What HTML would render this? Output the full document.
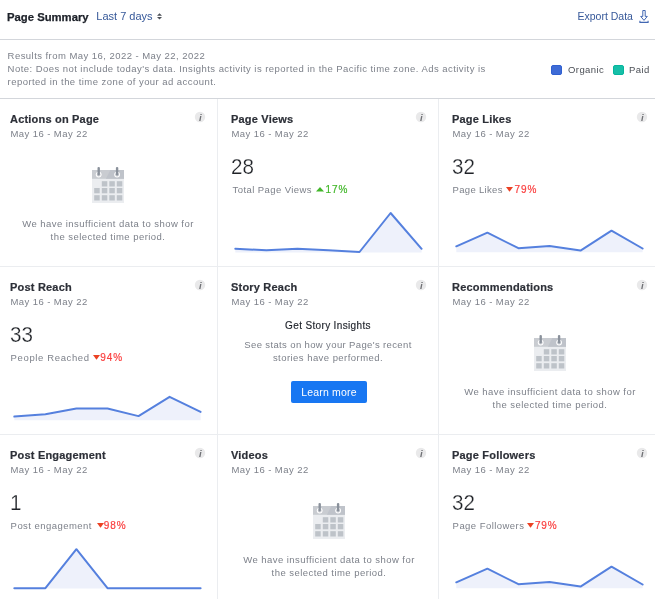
<!DOCTYPE html>
<html><head><meta charset="utf-8"><style>
html,body{margin:0;padding:0;background:#fff;}
body{width:655px;height:599px;overflow:hidden;position:relative;font-family:"Liberation Sans",Arial,sans-serif;}
div{position:absolute;white-space:nowrap;}
.ic{position:absolute;overflow:visible;}
.h1{font-weight:bold;font-size:11.3px;line-height:14px;color:#1d2129;-webkit-text-stroke:0.25px #1d2129;}
.sel{font-size:11px;line-height:14px;color:#365899;}
.exp{font-size:10.5px;line-height:14px;color:#365899;}
.g{font-size:9.5px;line-height:13px;color:#7d818a;letter-spacing:0.45px;}
.lg{font-size:9.5px;line-height:13px;color:#4b4f56;letter-spacing:0.42px;}
.ti{font-weight:bold;font-size:11px;line-height:14px;color:#2d3038;letter-spacing:0.2px;-webkit-text-stroke:0.2px #2d3038;}
.dt{font-size:9.5px;line-height:13px;color:#7d818a;letter-spacing:0.43px;}
.nd{font-size:9.5px;line-height:13px;color:#7d818a;letter-spacing:0.45px;text-align:center;width:220px;}
.num{font-size:22.4px;line-height:26px;color:#1f2227;-webkit-text-stroke:0.25px #fff;transform:scaleX(0.92);transform-origin:0 0;}
.lb{font-size:9.5px;line-height:13px;color:#7d818a;letter-spacing:0.45px;}
.pc{font-size:10px;letter-spacing:0.9px !important;-webkit-text-stroke:0.2px currentColor;}
.tri{display:inline-block;width:0;height:0;vertical-align:1px;margin-left:0px;margin-right:1.2px;}
.tri.up{border-left:4px solid transparent;border-right:4px solid transparent;border-bottom:4.5px solid #42b72a;}
.tri.dn{border-left:3.5px solid transparent;border-right:3.5px solid transparent;border-top:5px solid #eb4123;}
.sh{font-size:10px;line-height:14px;color:#1d2129;text-align:center;width:220px;letter-spacing:0.35px;-webkit-text-stroke:0.15px #1d2129;}
.btn{background:#1877f2;border-radius:2px;color:#fff;font-size:10.5px;line-height:22px;width:76px;height:22px;text-align:center;letter-spacing:0.2px;}
#w{position:absolute;left:0;top:0;width:655px;height:599px;will-change:transform;}
</style></head><body><div id="w">
<div class="h1" style="left:7px;top:10px;">Page Summary</div>
<div class="sel" style="left:96.3px;top:9px;">Last 7 days</div>
<svg class="ic" style="left:156px;top:12px" width="8" height="9" viewBox="0 0 8 9"><polygon points="1,3.8 6,3.8 3.5,1.2" fill="#4b4f56"/><polygon points="1,4.9 6,4.9 3.5,7.6" fill="#4b4f56"/></svg>
<div class="exp" style="left:577.5px;top:9px;">Export Data</div>
<svg class="ic" style="left:636px;top:8px" width="16" height="16" viewBox="0 0 16 16"><path d="M6.8,2.5 H9.2 V8.4 H11.3 L8,12.4 L4.7,8.4 H6.8 Z" fill="none" stroke="#4267b2" stroke-width="1"/><path d="M3.9,12.8 V14.4 H12.1 V12.8" fill="none" stroke="#4267b2" stroke-width="1.1"/></svg>
<div style="left:0;top:39px;width:655px;height:1px;background:#d3d6db"></div>
<div class="g" style="left:7.6px;top:49px;">Results from May 16, 2022 - May 22, 2022</div>
<div class="g" style="left:7.6px;top:62px;">Note: Does not include today's data. Insights activity is reported in the Pacific time zone. Ads activity is</div>
<div class="g" style="left:7.6px;top:75px;">reported in the time zone of your ad account.</div>
<div style="left:551px;top:65px;width:9px;height:8px;border-radius:2px;background:#3e6bd6;border:1px solid #3060d0"></div>
<div class="lg" style="left:568px;top:63px;">Organic</div>
<div style="left:613px;top:65px;width:9px;height:8px;border-radius:2px;background:#16bfa8;border:1px solid #05b59c"></div>
<div class="lg" style="left:629px;top:63px;">Paid</div>
<div style="left:0;top:98px;width:655px;height:1px;background:#d3d6db"></div>
<div style="left:217px;top:99px;width:1px;height:500px;background:#ebedf0"></div>
<div style="left:438px;top:99px;width:1px;height:500px;background:#ebedf0"></div>
<div style="left:0;top:266px;width:655px;height:1px;background:#ebedf0"></div>
<div style="left:0;top:434px;width:655px;height:1px;background:#ebedf0"></div>
<div class="ti" style="left:10px;top:112px;">Actions on Page</div>
<div class="dt" style="left:10.4px;top:126.5px;">May 16 - May 22</div>
<svg class="ic" style="left:194.1px;top:111.3px" width="12" height="12" viewBox="0 0 12 12"><circle cx="6" cy="6" r="5.2" fill="#e9e9ea"/><text x="6.2" y="9.5" text-anchor="middle" font-family="Liberation Sans" font-style="italic" font-weight="bold" font-size="9.5" fill="#707276">i</text></svg>
<div class="ti" style="left:231px;top:112px;">Page Views</div>
<div class="dt" style="left:231.4px;top:126.5px;">May 16 - May 22</div>
<svg class="ic" style="left:415.1px;top:111.3px" width="12" height="12" viewBox="0 0 12 12"><circle cx="6" cy="6" r="5.2" fill="#e9e9ea"/><text x="6.2" y="9.5" text-anchor="middle" font-family="Liberation Sans" font-style="italic" font-weight="bold" font-size="9.5" fill="#707276">i</text></svg>
<div class="ti" style="left:452px;top:112px;">Page Likes</div>
<div class="dt" style="left:452.4px;top:126.5px;">May 16 - May 22</div>
<svg class="ic" style="left:636.1px;top:111.3px" width="12" height="12" viewBox="0 0 12 12"><circle cx="6" cy="6" r="5.2" fill="#e9e9ea"/><text x="6.2" y="9.5" text-anchor="middle" font-family="Liberation Sans" font-style="italic" font-weight="bold" font-size="9.5" fill="#707276">i</text></svg>
<div class="ti" style="left:10px;top:280px;">Post Reach</div>
<div class="dt" style="left:10.4px;top:294.5px;">May 16 - May 22</div>
<svg class="ic" style="left:194.1px;top:279.3px" width="12" height="12" viewBox="0 0 12 12"><circle cx="6" cy="6" r="5.2" fill="#e9e9ea"/><text x="6.2" y="9.5" text-anchor="middle" font-family="Liberation Sans" font-style="italic" font-weight="bold" font-size="9.5" fill="#707276">i</text></svg>
<div class="ti" style="left:231px;top:280px;">Story Reach</div>
<div class="dt" style="left:231.4px;top:294.5px;">May 16 - May 22</div>
<svg class="ic" style="left:415.1px;top:279.3px" width="12" height="12" viewBox="0 0 12 12"><circle cx="6" cy="6" r="5.2" fill="#e9e9ea"/><text x="6.2" y="9.5" text-anchor="middle" font-family="Liberation Sans" font-style="italic" font-weight="bold" font-size="9.5" fill="#707276">i</text></svg>
<div class="ti" style="left:452px;top:280px;">Recommendations</div>
<div class="dt" style="left:452.4px;top:294.5px;">May 16 - May 22</div>
<svg class="ic" style="left:636.1px;top:279.3px" width="12" height="12" viewBox="0 0 12 12"><circle cx="6" cy="6" r="5.2" fill="#e9e9ea"/><text x="6.2" y="9.5" text-anchor="middle" font-family="Liberation Sans" font-style="italic" font-weight="bold" font-size="9.5" fill="#707276">i</text></svg>
<div class="ti" style="left:10px;top:448px;">Post Engagement</div>
<div class="dt" style="left:10.4px;top:462.5px;">May 16 - May 22</div>
<svg class="ic" style="left:194.1px;top:447.3px" width="12" height="12" viewBox="0 0 12 12"><circle cx="6" cy="6" r="5.2" fill="#e9e9ea"/><text x="6.2" y="9.5" text-anchor="middle" font-family="Liberation Sans" font-style="italic" font-weight="bold" font-size="9.5" fill="#707276">i</text></svg>
<div class="ti" style="left:231px;top:448px;">Videos</div>
<div class="dt" style="left:231.4px;top:462.5px;">May 16 - May 22</div>
<svg class="ic" style="left:415.1px;top:447.3px" width="12" height="12" viewBox="0 0 12 12"><circle cx="6" cy="6" r="5.2" fill="#e9e9ea"/><text x="6.2" y="9.5" text-anchor="middle" font-family="Liberation Sans" font-style="italic" font-weight="bold" font-size="9.5" fill="#707276">i</text></svg>
<div class="ti" style="left:452px;top:448px;">Page Followers</div>
<div class="dt" style="left:452.4px;top:462.5px;">May 16 - May 22</div>
<svg class="ic" style="left:636.1px;top:447.3px" width="12" height="12" viewBox="0 0 12 12"><circle cx="6" cy="6" r="5.2" fill="#e9e9ea"/><text x="6.2" y="9.5" text-anchor="middle" font-family="Liberation Sans" font-style="italic" font-weight="bold" font-size="9.5" fill="#707276">i</text></svg>
<svg class="ic" style="left:92px;top:167px" width="32" height="36" viewBox="0 0 32 36"><rect x="0" y="3" width="32" height="33" fill="#ebedf0"/><rect x="0" y="3" width="32" height="8.8" fill="#c9ccd1"/><polygon points="18.3,3 32,3 32,11.8 13.9,11.8" fill="#bfc3ca"/><circle cx="6.7" cy="7.6" r="2.9" fill="#fff"/><circle cx="25.1" cy="7.6" r="2.9" fill="#fff"/><circle cx="6.7" cy="7.6" r="1.9" fill="#c9ccd1"/><circle cx="25.1" cy="7.6" r="1.9" fill="#bfc3ca"/><rect x="5.5" y="0" width="2.4" height="8.4" rx="1.1" fill="#8a919b"/><rect x="23.9" y="0" width="2.4" height="8.4" rx="1.1" fill="#8a919b"/><rect x="9.8" y="14.2" width="5.5" height="5.3" fill="#bec3c9"/><rect x="17.3" y="14.2" width="5.5" height="5.3" fill="#bec3c9"/><rect x="24.8" y="14.2" width="5.5" height="5.3" fill="#bec3c9"/><rect x="2.2" y="21.0" width="5.5" height="5.3" fill="#bec3c9"/><rect x="9.8" y="21.0" width="5.5" height="5.3" fill="#bec3c9"/><rect x="17.3" y="21.0" width="5.5" height="5.3" fill="#bec3c9"/><rect x="24.8" y="21.0" width="5.5" height="5.3" fill="#bec3c9"/><rect x="2.2" y="28.2" width="5.5" height="5.3" fill="#bec3c9"/><rect x="9.8" y="28.2" width="5.5" height="5.3" fill="#bec3c9"/><rect x="17.3" y="28.2" width="5.5" height="5.3" fill="#bec3c9"/><rect x="24.8" y="28.2" width="5.5" height="5.3" fill="#bec3c9"/></svg>
<div class="nd" style="left:-2px;top:217px;">We have insufficient data to show for<br>the selected time period.</div>
<div class="num" style="left:230.5px;top:154px;">28</div>
<div class="lb" style="left:232.6px;top:183px;letter-spacing:0.42px">Total Page Views</div>
<svg class="ic" style="left:316.0px;top:187.4px" width="8" height="5" viewBox="0 0 8 5"><polygon points="0,4.4 8,4.4 4,0" fill="#42b72a"/></svg>
<div class="lb pc" style="left:325.6px;top:183px;color:#42b72a">17%</div>
<div class="num" style="left:451.5px;top:154px;">32</div>
<div class="lb" style="left:452.6px;top:183px;letter-spacing:0.32px">Page Likes</div>
<svg class="ic" style="left:505.6px;top:187.2px" width="7" height="5" viewBox="0 0 7 5"><polygon points="0,0 7,0 3.5,4.8" fill="#eb4123"/></svg>
<div class="lb pc" style="left:514.5px;top:183px;color:#fa3e3e">79%</div>
<div class="num" style="left:9.5px;top:322px;">33</div>
<div class="lb" style="left:10.6px;top:351px;letter-spacing:0.63px">People Reached</div>
<svg class="ic" style="left:92.9px;top:355.2px" width="7" height="5" viewBox="0 0 7 5"><polygon points="0,0 7,0 3.5,4.8" fill="#eb4123"/></svg>
<div class="lb pc" style="left:100.3px;top:351px;color:#fa3e3e">94%</div>
<div class="sh" style="left:218px;top:319px;">Get Story Insights</div>
<div class="nd" style="left:218px;top:338px;letter-spacing:0.37px">See stats on how your Page's recent</div>
<div class="nd" style="left:218px;top:351px;">stories have performed.</div>
<div class="btn" style="left:291px;top:381px;">Learn more</div>
<svg class="ic" style="left:534px;top:335px" width="32" height="36" viewBox="0 0 32 36"><rect x="0" y="3" width="32" height="33" fill="#ebedf0"/><rect x="0" y="3" width="32" height="8.8" fill="#c9ccd1"/><polygon points="18.3,3 32,3 32,11.8 13.9,11.8" fill="#bfc3ca"/><circle cx="6.7" cy="7.6" r="2.9" fill="#fff"/><circle cx="25.1" cy="7.6" r="2.9" fill="#fff"/><circle cx="6.7" cy="7.6" r="1.9" fill="#c9ccd1"/><circle cx="25.1" cy="7.6" r="1.9" fill="#bfc3ca"/><rect x="5.5" y="0" width="2.4" height="8.4" rx="1.1" fill="#8a919b"/><rect x="23.9" y="0" width="2.4" height="8.4" rx="1.1" fill="#8a919b"/><rect x="9.8" y="14.2" width="5.5" height="5.3" fill="#bec3c9"/><rect x="17.3" y="14.2" width="5.5" height="5.3" fill="#bec3c9"/><rect x="24.8" y="14.2" width="5.5" height="5.3" fill="#bec3c9"/><rect x="2.2" y="21.0" width="5.5" height="5.3" fill="#bec3c9"/><rect x="9.8" y="21.0" width="5.5" height="5.3" fill="#bec3c9"/><rect x="17.3" y="21.0" width="5.5" height="5.3" fill="#bec3c9"/><rect x="24.8" y="21.0" width="5.5" height="5.3" fill="#bec3c9"/><rect x="2.2" y="28.2" width="5.5" height="5.3" fill="#bec3c9"/><rect x="9.8" y="28.2" width="5.5" height="5.3" fill="#bec3c9"/><rect x="17.3" y="28.2" width="5.5" height="5.3" fill="#bec3c9"/><rect x="24.8" y="28.2" width="5.5" height="5.3" fill="#bec3c9"/></svg>
<div class="nd" style="left:440px;top:385px;">We have insufficient data to show for<br>the selected time period.</div>
<div class="num" style="left:9.5px;top:490px;">1</div>
<div class="lb" style="left:10.6px;top:519px;letter-spacing:0.45px">Post engagement</div>
<svg class="ic" style="left:96.7px;top:523.2px" width="7" height="5" viewBox="0 0 7 5"><polygon points="0,0 7,0 3.5,4.8" fill="#eb4123"/></svg>
<div class="lb pc" style="left:103.8px;top:519px;color:#fa3e3e">98%</div>
<svg class="ic" style="left:313px;top:503px" width="32" height="36" viewBox="0 0 32 36"><rect x="0" y="3" width="32" height="33" fill="#ebedf0"/><rect x="0" y="3" width="32" height="8.8" fill="#c9ccd1"/><polygon points="18.3,3 32,3 32,11.8 13.9,11.8" fill="#bfc3ca"/><circle cx="6.7" cy="7.6" r="2.9" fill="#fff"/><circle cx="25.1" cy="7.6" r="2.9" fill="#fff"/><circle cx="6.7" cy="7.6" r="1.9" fill="#c9ccd1"/><circle cx="25.1" cy="7.6" r="1.9" fill="#bfc3ca"/><rect x="5.5" y="0" width="2.4" height="8.4" rx="1.1" fill="#8a919b"/><rect x="23.9" y="0" width="2.4" height="8.4" rx="1.1" fill="#8a919b"/><rect x="9.8" y="14.2" width="5.5" height="5.3" fill="#bec3c9"/><rect x="17.3" y="14.2" width="5.5" height="5.3" fill="#bec3c9"/><rect x="24.8" y="14.2" width="5.5" height="5.3" fill="#bec3c9"/><rect x="2.2" y="21.0" width="5.5" height="5.3" fill="#bec3c9"/><rect x="9.8" y="21.0" width="5.5" height="5.3" fill="#bec3c9"/><rect x="17.3" y="21.0" width="5.5" height="5.3" fill="#bec3c9"/><rect x="24.8" y="21.0" width="5.5" height="5.3" fill="#bec3c9"/><rect x="2.2" y="28.2" width="5.5" height="5.3" fill="#bec3c9"/><rect x="9.8" y="28.2" width="5.5" height="5.3" fill="#bec3c9"/><rect x="17.3" y="28.2" width="5.5" height="5.3" fill="#bec3c9"/><rect x="24.8" y="28.2" width="5.5" height="5.3" fill="#bec3c9"/></svg>
<div class="nd" style="left:219px;top:553px;">We have insufficient data to show for<br>the selected time period.</div>
<div class="num" style="left:451.5px;top:490px;">32</div>
<div class="lb" style="left:452.6px;top:519px;letter-spacing:0.45px">Page Followers</div>
<svg class="ic" style="left:527.2px;top:523.2px" width="7" height="5" viewBox="0 0 7 5"><polygon points="0,0 7,0 3.5,4.8" fill="#eb4123"/></svg>
<div class="lb pc" style="left:534.9px;top:519px;color:#fa3e3e">79%</div>
<svg class="ic" style="left:0;top:0" width="655" height="599" viewBox="0 0 655 599"><polygon points="235.3,248.8 266.4,250.3 297.4,248.7 328.5,250.3 359.5,252.0 390.6,213.0 421.6,248.8 421.6,252.4 235.3,252.4" fill="#eef1fb"/><polyline points="235.3,248.8 266.4,250.3 297.4,248.7 328.5,250.3 359.5,252.0 390.6,213.0 421.6,248.8" fill="none" stroke="#5580de" stroke-width="2" stroke-linejoin="round" stroke-linecap="round"/>
<polygon points="456.3,246.3 487.4,232.7 518.4,248.2 549.5,246.0 580.5,250.6 611.5,230.7 642.6,248.5 642.6,252.2 456.3,252.2" fill="#eef1fb"/><polyline points="456.3,246.3 487.4,232.7 518.4,248.2 549.5,246.0 580.5,250.6 611.5,230.7 642.6,248.5" fill="none" stroke="#5580de" stroke-width="2" stroke-linejoin="round" stroke-linecap="round"/>
<polygon points="14.3,416.6 45.4,414.3 76.4,408.4 107.5,408.5 138.5,416.1 169.6,396.8 200.6,411.9 200.6,420.2 14.3,420.2" fill="#eef1fb"/><polyline points="14.3,416.6 45.4,414.3 76.4,408.4 107.5,408.5 138.5,416.1 169.6,396.8 200.6,411.9" fill="none" stroke="#5580de" stroke-width="2" stroke-linejoin="round" stroke-linecap="round"/>
<polygon points="14.3,588.2 45.4,588.2 76.4,549.2 107.5,588.2 138.5,588.2 169.6,588.2 200.6,588.2 200.6,588.4 14.3,588.4" fill="#eef1fb"/><polyline points="14.3,588.2 45.4,588.2 76.4,549.2 107.5,588.2 138.5,588.2 169.6,588.2 200.6,588.2" fill="none" stroke="#5580de" stroke-width="2" stroke-linejoin="round" stroke-linecap="round"/>
<polygon points="456.3,582.3 487.4,568.7 518.4,584.2 549.5,582.0 580.5,586.6 611.5,566.7 642.6,584.5 642.6,588.2 456.3,588.2" fill="#eef1fb"/><polyline points="456.3,582.3 487.4,568.7 518.4,584.2 549.5,582.0 580.5,586.6 611.5,566.7 642.6,584.5" fill="none" stroke="#5580de" stroke-width="2" stroke-linejoin="round" stroke-linecap="round"/>
</svg>
</div></body></html>
